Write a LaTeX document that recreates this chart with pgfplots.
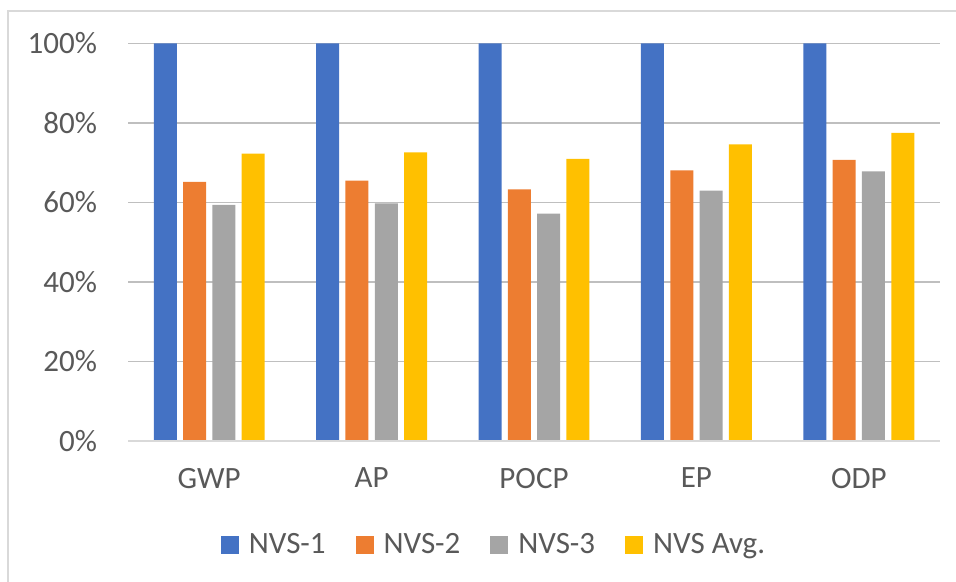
\documentclass[border=0pt]{standalone}
\usepackage{pgfplots}
\pgfplotsset{compat=1.18}
\usepackage{fontspec}
\setmainfont{Carlito}
\definecolor{cblue}{HTML}{4472C4}
\definecolor{corange}{HTML}{ED7D31}
\definecolor{cgray}{HTML}{A5A5A5}
\definecolor{cyellow}{HTML}{FFC000}
\definecolor{grid}{HTML}{D9D9D9}
\definecolor{txt}{HTML}{595959}
\begin{document}
\begin{tikzpicture}
\begin{axis}[
  at={(64pt,70.5pt)}, anchor=south west,
  scale only axis, width=406pt, height=198.75pt,
  ybar=3.15pt, bar width=11.5pt,
  xmin=-0.5, xmax=4.5, ymin=0, ymax=100,
  xtick=data, xticklabels={GWP,AP,POCP,EP,ODP},
  ytick={0,20,...,100},
  yticklabel={\pgfmathprintnumber{\tick}\%},
  /pgf/number format/assume math mode=true,
  xmajorgrids=false, ymajorgrids=true, grid style={grid, line width=0.75pt},
  axis line style={draw=none},
  xtick style={draw=none}, ytick style={draw=none},
  major tick length=0pt,
  tick label style={font=\fontsize{15.5}{18}\selectfont, text=txt},
  yticklabel style={xshift=-12pt},
  xticklabel style={yshift=-10pt},
  legend style={draw=none, at={(0.452,-0.2616)}, anchor=center,
    font=\fontsize{15.5}{18}\selectfont, text=txt,
    legend columns=4,
    /tikz/every odd column/.append style={column sep=3pt},
    /tikz/every even column/.append style={column sep=13pt}},
  legend image code/.code={\fill[#1] (0pt,-4.5pt) rectangle (9pt,4.5pt);},
  every axis plot/.append style={draw=none},
  clip=false,
]
\addplot[fill=cblue] coordinates {(0,100) (1,100) (2,100) (3,100) (4,100)};
\addplot[fill=corange] coordinates {(0,65.2) (1,65.5) (2,63.3) (3,68.1) (4,70.7)};
\addplot[fill=cgray] coordinates {(0,59.4) (1,59.8) (2,57.2) (3,63.0) (4,67.8)};
\addplot[fill=cyellow] coordinates {(0,72.3) (1,72.6) (2,71.0) (3,74.6) (4,77.5)};
\legend{NVS-1,NVS-2,NVS-3,NVS Avg.}
\draw[grid, line width=0.75pt] (axis cs:-0.5,0) -- (axis cs:4.5,0);
\end{axis}
\draw[grid, line width=1.2pt] (4pt,0pt) -- (4pt,285.5pt) -- (478pt,285.5pt);
\pgfresetboundingbox
\useasboundingbox (0pt,0pt) rectangle (478pt,291pt);
\end{tikzpicture}
\end{document}
